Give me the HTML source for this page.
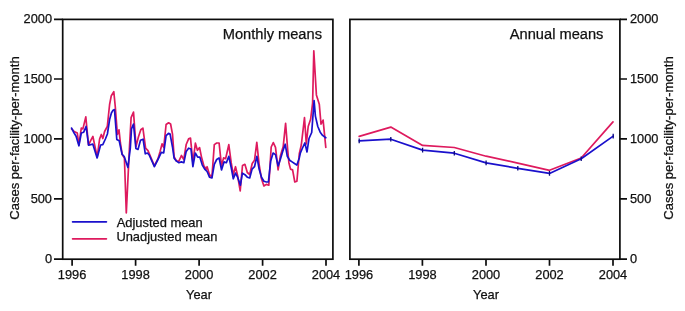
<!DOCTYPE html>
<html><head><meta charset="utf-8"><title>Monthly and annual means</title>
<style>
html,body{margin:0;padding:0;background:#fff;}
svg{display:block}
text{font-family:"Liberation Sans",Arial,sans-serif;fill:#111;stroke:#111;stroke-width:0.25px;}
</style></head><body>
<svg width="685" height="311" viewBox="0 0 685 311">
<rect width="685" height="311" fill="#fff"/>
<g fill="none" stroke-linejoin="round" stroke-linecap="round" stroke-width="1.7">
<polyline stroke="#de1a5e" points="71.6,129.0 74.1,131.4 75.7,132.2 77.3,133.0 78.9,145.0 81.3,128.1 82.9,128.9 85.8,116.9 88.5,145.0 90.9,140.2 92.9,136.5 95.0,146.6 97.2,156.8 99.6,139.0 101.3,134.5 102.8,138.5 104.6,131.5 107.3,126.5 109.6,104.5 111.3,95.7 113.8,91.7 115.3,107.0 117.4,134.5 119.0,129.8 120.4,143.0 122.2,154.6 124.4,158.0 126.3,213.0 129.5,146.6 131.1,117.7 133.5,112.1 136.0,146.6 138.4,137.0 140.8,129.7 142.9,128.1 145.6,148.2 148.0,150.6 154.4,165.9 158.0,158.7 160.1,151.4 162.1,143.8 163.7,147.5 166.1,124.5 168.6,122.8 170.6,124.0 172.5,134.1 174.1,156.6 176.5,161.1 178.9,161.1 181.4,155.5 183.8,159.5 186.2,144.5 188.6,138.9 190.5,138.1 192.9,162.7 195.4,143.2 197.4,150.3 199.6,147.6 201.4,156.6 203.9,165.9 206.3,169.1 207.1,166.7 209.5,174.7 211.9,177.2 214.3,144.6 216.7,143.0 219.1,143.0 221.5,165.9 223.6,157.9 225.6,158.7 228.8,144.6 231.2,162.7 233.3,174.7 235.5,166.7 237.6,175.5 240.2,190.8 242.5,165.5 244.9,164.3 247.3,172.5 249.7,174.5 252.2,163.5 254.5,160.3 256.8,142.4 259.1,164.3 261.5,178.8 263.9,186.0 266.4,184.4 268.8,185.2 271.2,147.0 273.3,142.6 275.5,147.4 278.1,169.9 280.3,156.3 283.2,146.6 285.6,123.3 287.7,150.0 288.9,162.7 290.5,169.1 292.6,169.9 294.8,182.0 296.9,181.2 299.3,153.8 301.3,145.0 304.5,117.7 306.3,144.0 308.2,126.5 310.6,119.3 312.6,103.2 313.8,50.8 316.4,94.9 319.3,104.2 321.0,124.1 323.1,120.1 325.8,147.4"/>
<polyline stroke="#1a10cc" points="71.6,128.1 74.1,133.0 76.1,136.2 78.9,145.8 81.3,133.0 83.7,132.2 86.1,126.5 88.6,145.2 92.8,144.1 97.1,158.0 100.6,145.0 102.8,144.6 105.4,139.0 107.4,134.0 109.6,119.6 111.4,113.0 112.8,110.6 114.5,109.6 116.8,139.5 119.2,140.8 122.1,154.2 124.2,156.5 127.9,167.5 130.3,148.2 131.5,128.9 133.5,124.1 135.9,148.4 138.0,149.4 140.5,140.3 143.1,139.2 145.3,153.8 147.4,153.0 149.2,155.0 154.4,166.7 158.2,159.0 161.3,152.4 163.7,152.8 166.1,135.7 168.5,133.3 170.1,134.1 172.5,147.0 174.1,158.2 176.5,161.1 178.9,162.7 181.4,161.9 183.8,162.7 186.2,151.4 188.6,148.2 191.0,149.0 192.9,166.7 195.3,153.0 197.7,157.1 199.8,157.1 202.3,165.1 204.7,169.1 207.1,171.5 209.5,177.2 211.9,178.0 214.3,164.3 216.7,159.5 219.1,157.9 221.5,169.9 224.0,161.9 226.4,162.7 228.8,156.3 231.2,167.5 233.3,178.8 235.5,173.1 237.6,177.2 240.4,185.2 242.4,173.1 244.9,174.7 247.3,177.2 249.7,178.0 252.1,169.1 254.5,166.7 256.9,156.3 259.1,169.1 261.5,177.2 263.9,181.2 266.4,182.0 268.4,182.0 270.7,161.1 273.1,153.0 275.5,154.6 278.1,165.9 280.3,159.5 282.7,151.4 285.2,144.2 287.3,156.3 289.7,160.3 292.1,161.9 294.5,163.5 296.9,165.1 299.3,157.9 300.3,153.2 302.5,148.0 304.9,142.9 307.0,152.0 309.0,138.5 311.7,132.5 314.1,100.5 315.4,116.1 317.8,126.5 320.2,132.2 322.6,135.4 325.8,137.8"/>
<polyline stroke="#de1a5e" points="359.2,136.4 390.8,127.1 422.6,145.4 454.3,147.5 486.1,156.2 517.8,163.1 549.5,170.3 581.2,158.0 613.0,121.9"/>
<polyline stroke="#1a10cc" points="359.2,140.9 390.8,139.2 422.6,150.1 454.3,153.2 486.1,162.9 517.8,168.3 549.5,173.4 581.2,158.8 613.2,136.1"/>
<path stroke="#0a0880" stroke-width="1.3" stroke-linecap="butt" d="M359.2,138.6v4.6 M390.8,136.9v4.6 M422.6,147.8v4.6 M454.3,150.9v4.6 M486.1,160.6v4.6 M517.8,166.0v4.6 M549.5,171.1v4.6 M581.2,156.5v4.6 M613.2,133.8v4.6"/>
<path stroke="#1a10cc" d="M72.6,221.8H106.4"/>
<path stroke="#de1a5e" d="M72.6,238.8H106.4"/>
</g>
<g fill="none" stroke="#0c0c0c" stroke-width="1.7">
<rect x="62.7" y="19.4" width="270.2" height="239.8"/>
<rect x="349.9" y="19.4" width="270" height="239.8"/>
<path d="M54,19.4H62.7M54,79.0H62.7M54,138.9H62.7M54,198.9H62.7M54,259.2H62.7"/>
<path d="M619.9,19.4H627M619.9,79.0H627M619.9,138.9H627M619.9,198.9H627M619.9,259.2H627"/>
<path d="M72.1,259.2V265.8M135.6,259.2V265.8M199.1,259.2V265.8M262.6,259.2V265.8M326,259.2V265.8"/>
<path d="M358.9,259.2V265.8M422.4,259.2V265.8M486,259.2V265.8M549.5,259.2V265.8M613,259.2V265.8"/>
</g>
<g font-size="12.8px">
<g text-anchor="end">
<text x="52" y="23.2">2000</text><text x="52" y="83.0">1500</text><text x="52" y="142.9">1000</text><text x="52" y="202.7">500</text><text x="52" y="263.0">0</text>
</g>
<g text-anchor="start">
<text x="630" y="23.2">2000</text><text x="630" y="83.0">1500</text><text x="630" y="142.9">1000</text><text x="630" y="202.7">500</text><text x="630" y="263.0">0</text>
</g>
<g text-anchor="middle">
<text x="72.1" y="278.9">1996</text><text x="135.6" y="278.9">1998</text><text x="199.1" y="278.9">2000</text><text x="262.6" y="278.9">2002</text><text x="326" y="278.9">2004</text>
<text x="358.9" y="278.9">1996</text><text x="422.4" y="278.9">1998</text><text x="486" y="278.9">2000</text><text x="549.5" y="278.9">2002</text><text x="613" y="278.9">2004</text>
<text x="199" y="299.1">Year</text><text x="486" y="299.1">Year</text>
<text font-size="13px" transform="translate(19.0,138) rotate(-90)">Cases per-facility-per-month</text>
<text font-size="13px" transform="translate(673.2,138) rotate(-90)">Cases per-facility-per-month</text>
</g>
</g>
<g font-size="14.65px">
<text x="222.7" y="38.5">Monthly means</text>
<text x="509.8" y="38.7">Annual means</text>
</g>
<g font-size="12.9px">
<text x="116.7" y="227.2">Adjusted mean</text>
<text x="116.4" y="241.4">Unadjusted mean</text>
</g>
</svg>
</body></html>
